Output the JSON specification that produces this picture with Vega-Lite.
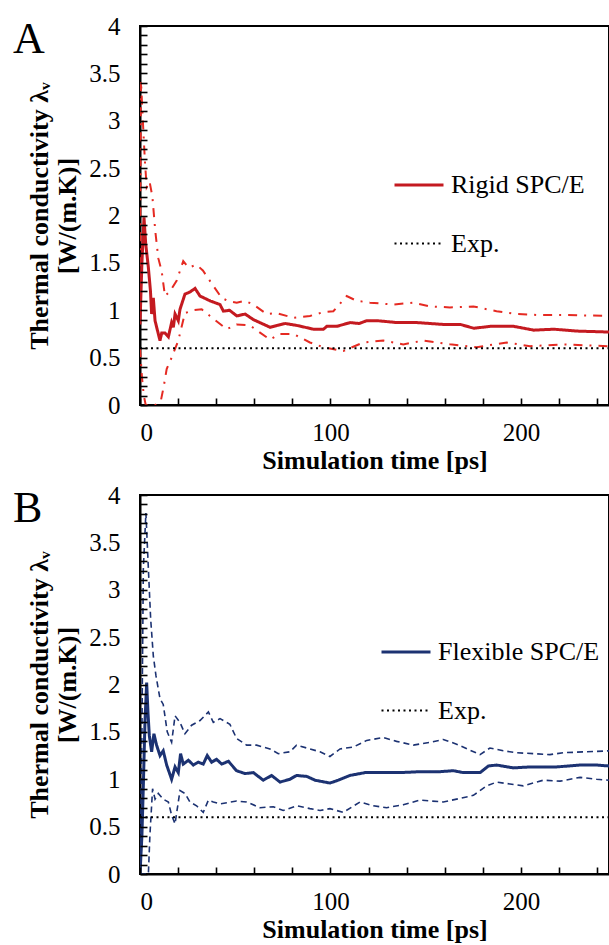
{
  "$schema": "https://vega.github.io/schema/vega-lite/v6.json",
  "padding": {"left": 12, "top": 13, "right": 0, "bottom": 0},
  "background": "white",
  "spacing": 8,
  "resolve": {"scale": {"color": "independent", "strokeDash": "independent", "strokeWidth": "independent"}},
  "config": {
    "view": {"stroke": "black", "strokeWidth": 2},
    "axis": {"domainColor": "black", "domainWidth": 2, "tickColor": "black", "tickWidth": 1.8, "grid": false, "zindex": 1,
      "labelFont": "Liberation Serif", "labelFontSize": 25, "labelColor": "black",
      "titleFont": "Liberation Serif", "titleFontSize": 26, "titleFontWeight": "bold", "titleColor": "black"},
    "axisX": {"titlePadding": 2},
    "legend": {"labelFont": "Liberation Serif", "labelFontSize": 26, "labelColor": "black", "labelLimit": 400, "symbolType": "stroke", "symbolSize": 2401, "labelOffset": 6, "rowPadding": 20, "padding": 0},
    "title": {"font": "Liberation Serif", "fontSize": 44, "fontWeight": "normal", "color": "black", "anchor": "start", "frame": "group", "baseline": "alphabetic"}
  },
  "datasets": {
    "rigid": [
      {"t":0,"v":0.85,"s":"Rigid SPC/E"},{"t":1,"v":1.5,"s":"Rigid SPC/E"},{"t":2.1,"v":1.98,"s":"Rigid SPC/E"},{"t":3,"v":1.7,"s":"Rigid SPC/E"},{"t":4.4,"v":1.45,"s":"Rigid SPC/E"},{"t":5.5,"v":1.2,"s":"Rigid SPC/E"},{"t":6.1,"v":0.96,"s":"Rigid SPC/E"},{"t":7,"v":1.13,"s":"Rigid SPC/E"},{"t":7.9,"v":0.89,"s":"Rigid SPC/E"},{"t":9,"v":0.8,"s":"Rigid SPC/E"},{"t":10.5,"v":0.68,"s":"Rigid SPC/E"},{"t":11.4,"v":0.76,"s":"Rigid SPC/E"},{"t":13.1,"v":0.76,"s":"Rigid SPC/E"},{"t":14.9,"v":0.72,"s":"Rigid SPC/E"},{"t":16.6,"v":0.87,"s":"Rigid SPC/E"},{"t":17.5,"v":0.82,"s":"Rigid SPC/E"},{"t":18.4,"v":0.96,"s":"Rigid SPC/E"},{"t":20.1,"v":0.89,"s":"Rigid SPC/E"},{"t":21,"v":1.01,"s":"Rigid SPC/E"},{"t":23.6,"v":1.17,"s":"Rigid SPC/E"},{"t":26,"v":1.19,"s":"Rigid SPC/E"},{"t":28.9,"v":1.23,"s":"Rigid SPC/E"},{"t":31.5,"v":1.15,"s":"Rigid SPC/E"},{"t":36.7,"v":1.1,"s":"Rigid SPC/E"},{"t":42,"v":1.06,"s":"Rigid SPC/E"},{"t":43.8,"v":0.99,"s":"Rigid SPC/E"},{"t":47,"v":1.0,"s":"Rigid SPC/E"},{"t":50.8,"v":0.94,"s":"Rigid SPC/E"},{"t":55.2,"v":0.96,"s":"Rigid SPC/E"},{"t":59.6,"v":0.9,"s":"Rigid SPC/E"},{"t":64,"v":0.86,"s":"Rigid SPC/E"},{"t":68.3,"v":0.82,"s":"Rigid SPC/E"},{"t":72,"v":0.84,"s":"Rigid SPC/E"},{"t":76.2,"v":0.86,"s":"Rigid SPC/E"},{"t":82.3,"v":0.84,"s":"Rigid SPC/E"},{"t":91.1,"v":0.8,"s":"Rigid SPC/E"},{"t":96.3,"v":0.8,"s":"Rigid SPC/E"},{"t":98.1,"v":0.83,"s":"Rigid SPC/E"},{"t":103.3,"v":0.83,"s":"Rigid SPC/E"},{"t":110.3,"v":0.87,"s":"Rigid SPC/E"},{"t":115,"v":0.86,"s":"Rigid SPC/E"},{"t":119.1,"v":0.89,"s":"Rigid SPC/E"},{"t":124.4,"v":0.89,"s":"Rigid SPC/E"},{"t":134.9,"v":0.87,"s":"Rigid SPC/E"},{"t":145.4,"v":0.87,"s":"Rigid SPC/E"},{"t":159.4,"v":0.85,"s":"Rigid SPC/E"},{"t":168.2,"v":0.85,"s":"Rigid SPC/E"},{"t":175.2,"v":0.81,"s":"Rigid SPC/E"},{"t":183.9,"v":0.83,"s":"Rigid SPC/E"},{"t":196.2,"v":0.83,"s":"Rigid SPC/E"},{"t":206.7,"v":0.79,"s":"Rigid SPC/E"},{"t":217.2,"v":0.8,"s":"Rigid SPC/E"},{"t":229.5,"v":0.78,"s":"Rigid SPC/E"},{"t":246.2,"v":0.77,"s":"Rigid SPC/E"},
      {"t":0,"v":1.2,"s":"upper"},{"t":0.5,"v":3.42,"s":"upper"},{"t":1.5,"v":3.0,"s":"upper"},{"t":2.5,"v":2.6,"s":"upper"},{"t":3.5,"v":2.3,"s":"upper"},{"t":5,"v":2.36,"s":"upper"},{"t":6.5,"v":2.2,"s":"upper"},{"t":8,"v":1.84,"s":"upper"},{"t":9.6,"v":1.55,"s":"upper"},{"t":11.4,"v":1.41,"s":"upper"},{"t":13.1,"v":1.15,"s":"upper"},{"t":15.7,"v":1.2,"s":"upper"},{"t":19.2,"v":1.31,"s":"upper"},{"t":22.7,"v":1.52,"s":"upper"},{"t":25.4,"v":1.45,"s":"upper"},{"t":29.7,"v":1.48,"s":"upper"},{"t":33,"v":1.42,"s":"upper"},{"t":36.7,"v":1.31,"s":"upper"},{"t":42.9,"v":1.13,"s":"upper"},{"t":46,"v":1.1,"s":"upper"},{"t":50.8,"v":1.08,"s":"upper"},{"t":55,"v":1.1,"s":"upper"},{"t":59.5,"v":1.06,"s":"upper"},{"t":66.5,"v":0.96,"s":"upper"},{"t":71.7,"v":0.97,"s":"upper"},{"t":80.5,"v":0.92,"s":"upper"},{"t":89.2,"v":0.94,"s":"upper"},{"t":96.2,"v":0.98,"s":"upper"},{"t":101.5,"v":0.99,"s":"upper"},{"t":108.5,"v":1.15,"s":"upper"},{"t":113.7,"v":1.1,"s":"upper"},{"t":120.7,"v":1.08,"s":"upper"},{"t":133,"v":1.06,"s":"upper"},{"t":143.5,"v":1.08,"s":"upper"},{"t":152.2,"v":1.04,"s":"upper"},{"t":162.7,"v":1.03,"s":"upper"},{"t":175,"v":1.04,"s":"upper"},{"t":187.2,"v":0.99,"s":"upper"},{"t":197.7,"v":0.96,"s":"upper"},{"t":208.2,"v":0.95,"s":"upper"},{"t":222.2,"v":0.95,"s":"upper"},{"t":246.2,"v":0.94,"s":"upper"},
      {"t":0,"v":0.6,"s":"lower"},{"t":1,"v":0.3,"s":"lower"},{"t":2,"v":0.1,"s":"lower"},{"t":3,"v":0.0,"s":"lower"},{"t":5,"v":0.0,"s":"lower"},{"t":8,"v":0.0,"s":"lower"},{"t":11,"v":0.05,"s":"lower"},{"t":12.5,"v":0.2,"s":"lower"},{"t":14,"v":0.38,"s":"lower"},{"t":16.6,"v":0.5,"s":"lower"},{"t":20.1,"v":0.68,"s":"lower"},{"t":23.6,"v":0.97,"s":"lower"},{"t":28,"v":1.0,"s":"lower"},{"t":32.4,"v":1.01,"s":"lower"},{"t":36.7,"v":0.94,"s":"lower"},{"t":45.5,"v":0.8,"s":"lower"},{"t":50.7,"v":0.85,"s":"lower"},{"t":57.7,"v":0.84,"s":"lower"},{"t":68.2,"v":0.69,"s":"lower"},{"t":73.5,"v":0.75,"s":"lower"},{"t":80.5,"v":0.75,"s":"lower"},{"t":89.2,"v":0.66,"s":"lower"},{"t":96.2,"v":0.61,"s":"lower"},{"t":106.7,"v":0.57,"s":"lower"},{"t":117.2,"v":0.66,"s":"lower"},{"t":127.7,"v":0.68,"s":"lower"},{"t":138.2,"v":0.64,"s":"lower"},{"t":148.7,"v":0.68,"s":"lower"},{"t":162.7,"v":0.64,"s":"lower"},{"t":176.7,"v":0.61,"s":"lower"},{"t":192.5,"v":0.66,"s":"lower"},{"t":204.7,"v":0.62,"s":"lower"},{"t":222.2,"v":0.64,"s":"lower"},{"t":246.2,"v":0.62,"s":"lower"},
      {"t":0,"v":0.6,"s":"Exp."},{"t":246.2,"v":0.6,"s":"Exp."}
    ],
    "flex": [
      {"t":0,"v":0,"s":"Flexible SPC/E"},{"t":1,"v":0.4,"s":"Flexible SPC/E"},{"t":1.75,"v":0.93,"s":"Flexible SPC/E"},{"t":2.6,"v":1.6,"s":"Flexible SPC/E"},{"t":3.5,"v":2.02,"s":"Flexible SPC/E"},{"t":4.2,"v":1.7,"s":"Flexible SPC/E"},{"t":4.9,"v":1.46,"s":"Flexible SPC/E"},{"t":6.1,"v":1.29,"s":"Flexible SPC/E"},{"t":7.3,"v":1.48,"s":"Flexible SPC/E"},{"t":8.7,"v":1.36,"s":"Flexible SPC/E"},{"t":10.5,"v":1.25,"s":"Flexible SPC/E"},{"t":12.2,"v":1.3,"s":"Flexible SPC/E"},{"t":14,"v":1.15,"s":"Flexible SPC/E"},{"t":16.6,"v":1.0,"s":"Flexible SPC/E"},{"t":18.4,"v":1.13,"s":"Flexible SPC/E"},{"t":20.1,"v":1.07,"s":"Flexible SPC/E"},{"t":21.3,"v":1.27,"s":"Flexible SPC/E"},{"t":22.7,"v":1.16,"s":"Flexible SPC/E"},{"t":25.4,"v":1.2,"s":"Flexible SPC/E"},{"t":28,"v":1.15,"s":"Flexible SPC/E"},{"t":30.6,"v":1.18,"s":"Flexible SPC/E"},{"t":33.2,"v":1.16,"s":"Flexible SPC/E"},{"t":35.3,"v":1.25,"s":"Flexible SPC/E"},{"t":37.6,"v":1.18,"s":"Flexible SPC/E"},{"t":40.2,"v":1.21,"s":"Flexible SPC/E"},{"t":42.9,"v":1.16,"s":"Flexible SPC/E"},{"t":46.4,"v":1.19,"s":"Flexible SPC/E"},{"t":50.7,"v":1.09,"s":"Flexible SPC/E"},{"t":55.1,"v":1.06,"s":"Flexible SPC/E"},{"t":59.5,"v":1.07,"s":"Flexible SPC/E"},{"t":64.7,"v":0.99,"s":"Flexible SPC/E"},{"t":69.1,"v":1.04,"s":"Flexible SPC/E"},{"t":73.5,"v":0.97,"s":"Flexible SPC/E"},{"t":78.7,"v":1.0,"s":"Flexible SPC/E"},{"t":82.2,"v":1.04,"s":"Flexible SPC/E"},{"t":87.5,"v":1.03,"s":"Flexible SPC/E"},{"t":91.9,"v":0.99,"s":"Flexible SPC/E"},{"t":99.7,"v":0.96,"s":"Flexible SPC/E"},{"t":104.1,"v":0.99,"s":"Flexible SPC/E"},{"t":110.2,"v":1.04,"s":"Flexible SPC/E"},{"t":118.1,"v":1.07,"s":"Flexible SPC/E"},{"t":126,"v":1.07,"s":"Flexible SPC/E"},{"t":136.5,"v":1.07,"s":"Flexible SPC/E"},{"t":147,"v":1.08,"s":"Flexible SPC/E"},{"t":157.5,"v":1.08,"s":"Flexible SPC/E"},{"t":164.5,"v":1.09,"s":"Flexible SPC/E"},{"t":169.7,"v":1.07,"s":"Flexible SPC/E"},{"t":178.5,"v":1.07,"s":"Flexible SPC/E"},{"t":182.9,"v":1.14,"s":"Flexible SPC/E"},{"t":187.2,"v":1.15,"s":"Flexible SPC/E"},{"t":196,"v":1.12,"s":"Flexible SPC/E"},{"t":204.7,"v":1.13,"s":"Flexible SPC/E"},{"t":218.7,"v":1.13,"s":"Flexible SPC/E"},{"t":231,"v":1.15,"s":"Flexible SPC/E"},{"t":239.7,"v":1.15,"s":"Flexible SPC/E"},{"t":246.2,"v":1.14,"s":"Flexible SPC/E"},
      {"t":0,"v":0,"s":"upper"},{"t":1,"v":1.5,"s":"upper"},{"t":1.75,"v":3.22,"s":"upper"},{"t":3.1,"v":3.81,"s":"upper"},{"t":4.4,"v":3.22,"s":"upper"},{"t":5.6,"v":2.69,"s":"upper"},{"t":7,"v":2.3,"s":"upper"},{"t":8.4,"v":2.09,"s":"upper"},{"t":10.5,"v":1.85,"s":"upper"},{"t":12.2,"v":1.79,"s":"upper"},{"t":14.3,"v":1.5,"s":"upper"},{"t":16.6,"v":1.39,"s":"upper"},{"t":18.4,"v":1.67,"s":"upper"},{"t":21,"v":1.6,"s":"upper"},{"t":23.6,"v":1.48,"s":"upper"},{"t":27.1,"v":1.57,"s":"upper"},{"t":31.5,"v":1.62,"s":"upper"},{"t":35.9,"v":1.71,"s":"upper"},{"t":38.5,"v":1.6,"s":"upper"},{"t":42,"v":1.64,"s":"upper"},{"t":47.2,"v":1.58,"s":"upper"},{"t":50.7,"v":1.43,"s":"upper"},{"t":56,"v":1.36,"s":"upper"},{"t":61.2,"v":1.36,"s":"upper"},{"t":68.2,"v":1.32,"s":"upper"},{"t":72.6,"v":1.27,"s":"upper"},{"t":78.7,"v":1.29,"s":"upper"},{"t":82.2,"v":1.36,"s":"upper"},{"t":89.2,"v":1.32,"s":"upper"},{"t":94.5,"v":1.29,"s":"upper"},{"t":99.7,"v":1.24,"s":"upper"},{"t":105,"v":1.32,"s":"upper"},{"t":112,"v":1.34,"s":"upper"},{"t":119,"v":1.41,"s":"upper"},{"t":127.7,"v":1.44,"s":"upper"},{"t":134.7,"v":1.4,"s":"upper"},{"t":143.5,"v":1.36,"s":"upper"},{"t":152.2,"v":1.39,"s":"upper"},{"t":159.2,"v":1.42,"s":"upper"},{"t":166.2,"v":1.37,"s":"upper"},{"t":178.5,"v":1.26,"s":"upper"},{"t":183.7,"v":1.33,"s":"upper"},{"t":190.7,"v":1.3,"s":"upper"},{"t":197.7,"v":1.28,"s":"upper"},{"t":206.5,"v":1.27,"s":"upper"},{"t":215.2,"v":1.26,"s":"upper"},{"t":222.2,"v":1.28,"s":"upper"},{"t":234.5,"v":1.29,"s":"upper"},{"t":246.2,"v":1.3,"s":"upper"},
      {"t":0,"v":0,"s":"lower"},{"t":2,"v":0,"s":"lower"},{"t":4.4,"v":0,"s":"lower"},{"t":5.2,"v":0.41,"s":"lower"},{"t":6.6,"v":0.9,"s":"lower"},{"t":7.9,"v":0.79,"s":"lower"},{"t":9.6,"v":0.85,"s":"lower"},{"t":12.2,"v":0.79,"s":"lower"},{"t":14.9,"v":0.76,"s":"lower"},{"t":16.6,"v":0.62,"s":"lower"},{"t":18.4,"v":0.53,"s":"lower"},{"t":20.1,"v":0.76,"s":"lower"},{"t":21,"v":0.88,"s":"lower"},{"t":23.6,"v":0.85,"s":"lower"},{"t":26.2,"v":0.76,"s":"lower"},{"t":29.7,"v":0.72,"s":"lower"},{"t":33.2,"v":0.65,"s":"lower"},{"t":35.9,"v":0.78,"s":"lower"},{"t":38.5,"v":0.76,"s":"lower"},{"t":42,"v":0.74,"s":"lower"},{"t":50.7,"v":0.77,"s":"lower"},{"t":56,"v":0.76,"s":"lower"},{"t":63,"v":0.7,"s":"lower"},{"t":70,"v":0.71,"s":"lower"},{"t":75.2,"v":0.67,"s":"lower"},{"t":82.2,"v":0.72,"s":"lower"},{"t":89.2,"v":0.69,"s":"lower"},{"t":94.5,"v":0.67,"s":"lower"},{"t":99.7,"v":0.69,"s":"lower"},{"t":106.7,"v":0.65,"s":"lower"},{"t":115.5,"v":0.76,"s":"lower"},{"t":122.5,"v":0.72,"s":"lower"},{"t":129.5,"v":0.7,"s":"lower"},{"t":138.2,"v":0.73,"s":"lower"},{"t":147,"v":0.78,"s":"lower"},{"t":159.2,"v":0.76,"s":"lower"},{"t":166.2,"v":0.79,"s":"lower"},{"t":175,"v":0.83,"s":"lower"},{"t":182,"v":0.93,"s":"lower"},{"t":187.2,"v":0.97,"s":"lower"},{"t":194.2,"v":0.95,"s":"lower"},{"t":201.2,"v":0.93,"s":"lower"},{"t":211.7,"v":0.99,"s":"lower"},{"t":220.5,"v":0.98,"s":"lower"},{"t":231,"v":1.02,"s":"lower"},{"t":239.7,"v":1.0,"s":"lower"},{"t":246.2,"v":0.99,"s":"lower"},
      {"t":0,"v":0.6,"s":"Exp."},{"t":246.2,"v":0.6,"s":"Exp."}
    ]
  },
  "vconcat": [
    {
      "width": 469, "height": 379,
      "title": {"text": "A", "dx": -127, "offset": -48, "dy": 0},
      "data": {"name": "rigid"},
      "resolve": {"scale": {"x": "independent", "y": "independent"}},
      "layer": [
        {"transform": [{"filter": "datum.s === 'upper' || datum.s === 'lower'"}],
         "mark": {"type": "line", "color": "#e52a22", "strokeWidth": 2, "strokeDash": [9, 7, 2, 7], "clip": true},
         "encoding": {
           "x": {"field": "t", "type": "quantitative", "scale": {"domain": [0, 246.2], "nice": false, "zero": false},
             "axis": {"orient": "bottom", "title": "Simulation time [ps]", "ticks": false, "tickSize": 0, "labelPadding": 15, "values": [0, 100, 200], "format": "d"}},
           "y": {"field": "v", "type": "quantitative", "scale": {"domain": [0, 4], "nice": false},
             "axis": {"orient": "left", "title": ["Thermal conductivity λᵥ", "[W/(m.K)]"], "titleAngle": 270, "titleX": -114, "titleY": 189.5, "titleAlign": "center", "titleBaseline": "top", "titleLineHeight": 28,
               "ticks": false, "tickSize": 0, "labelPadding": 20, "values": [0, 0.5, 1, 1.5, 2, 2.5, 3, 3.5, 4], "format": "~g"}},
           "detail": {"field": "s"}}},
        {"transform": [{"filter": "datum.s === 'Rigid SPC/E' || datum.s === 'Exp.'"}],
         "mark": {"type": "line", "clip": true},
         "encoding": {
           "x": {"field": "t", "type": "quantitative", "scale": {"domain": [0, 246.2], "nice": false, "zero": false},
             "axis": {"orient": "bottom", "offset": -7, "ticks": true, "tickSize": 7, "tickColor": "black", "tickOpacity": 1, "tickWidth": 1.6, "zindex": 2, "domain": false, "labels": false, "title": null, "values": [0,20,40,60,80,100,120,140,160,180,200,220,240]}},
           "y": {"field": "v", "type": "quantitative", "scale": {"domain": [0, 4], "nice": false},
             "axis": {"orient": "left", "offset": -7, "ticks": true, "tickSize": 7, "tickColor": "black", "tickOpacity": 1, "tickWidth": 1.6, "zindex": 2, "domain": false, "labels": false, "title": null,
               "values": [0,0.1,0.2,0.3,0.4,0.5,0.6,0.7,0.8,0.9,1,1.1,1.2,1.3,1.4,1.5,1.6,1.7,1.8,1.9,2,2.1,2.2,2.3,2.4,2.5,2.6,2.7,2.8,2.9,3,3.1,3.2,3.3,3.4,3.5,3.6,3.7,3.8,3.9,4]}},
           "color": {"field": "s", "type": "nominal", "scale": {"domain": ["Rigid SPC/E", "Exp."], "range": ["#c41a20", "black"]}, "legend": {"title": null, "orient": "none", "legendX": 253, "legendY": 133}},
           "strokeDash": {"field": "s", "type": "nominal", "scale": {"domain": ["Rigid SPC/E", "Exp."], "range": [[1, 0], [2, 3.5]]}, "legend": {"title": null, "orient": "none", "legendX": 253, "legendY": 133}},
           "strokeWidth": {"field": "s", "type": "nominal", "scale": {"domain": ["Rigid SPC/E", "Exp."], "range": [3, 2]}, "legend": {"title": null, "orient": "none", "legendX": 253, "legendY": 133}}
         }}
      ]
    },
    {
      "width": 469, "height": 379,
      "title": {"text": "B", "dx": -127, "offset": -48, "dy": 0},
      "data": {"name": "flex"},
      "resolve": {"scale": {"x": "independent", "y": "independent"}},
      "layer": [
        {"transform": [{"filter": "datum.s === 'upper' || datum.s === 'lower'"}],
         "mark": {"type": "line", "color": "#1c3272", "strokeWidth": 1.6, "strokeDash": [6, 4], "clip": true},
         "encoding": {
           "x": {"field": "t", "type": "quantitative", "scale": {"domain": [0, 246.2], "nice": false, "zero": false},
             "axis": {"orient": "bottom", "title": "Simulation time [ps]", "ticks": false, "tickSize": 0, "labelPadding": 15, "values": [0, 100, 200], "format": "d"}},
           "y": {"field": "v", "type": "quantitative", "scale": {"domain": [0, 4], "nice": false},
             "axis": {"orient": "left", "title": ["Thermal conductivity λᵥ", "[W/(m.K)]"], "titleAngle": 270, "titleX": -114, "titleY": 189.5, "titleAlign": "center", "titleBaseline": "top", "titleLineHeight": 28,
               "ticks": false, "tickSize": 0, "labelPadding": 20, "values": [0, 0.5, 1, 1.5, 2, 2.5, 3, 3.5, 4], "format": "~g"}},
           "detail": {"field": "s"}}},
        {"transform": [{"filter": "datum.s === 'Flexible SPC/E' || datum.s === 'Exp.'"}],
         "mark": {"type": "line", "clip": true},
         "encoding": {
           "x": {"field": "t", "type": "quantitative", "scale": {"domain": [0, 246.2], "nice": false, "zero": false},
             "axis": {"orient": "bottom", "offset": -7, "ticks": true, "tickSize": 7, "tickColor": "black", "tickOpacity": 1, "tickWidth": 1.6, "zindex": 2, "domain": false, "labels": false, "title": null, "values": [0,20,40,60,80,100,120,140,160,180,200,220,240]}},
           "y": {"field": "v", "type": "quantitative", "scale": {"domain": [0, 4], "nice": false},
             "axis": {"orient": "left", "offset": -7, "ticks": true, "tickSize": 7, "tickColor": "black", "tickOpacity": 1, "tickWidth": 1.6, "zindex": 2, "domain": false, "labels": false, "title": null,
               "values": [0,0.1,0.2,0.3,0.4,0.5,0.6,0.7,0.8,0.9,1,1.1,1.2,1.3,1.4,1.5,1.6,1.7,1.8,1.9,2,2.1,2.2,2.3,2.4,2.5,2.6,2.7,2.8,2.9,3,3.1,3.2,3.3,3.4,3.5,3.6,3.7,3.8,3.9,4]}},
           "color": {"field": "s", "type": "nominal", "scale": {"domain": ["Flexible SPC/E", "Exp."], "range": ["#1c3272", "black"]}, "legend": {"title": null, "orient": "none", "legendX": 240, "legendY": 131}},
           "strokeDash": {"field": "s", "type": "nominal", "scale": {"domain": ["Flexible SPC/E", "Exp."], "range": [[1, 0], [2, 3.5]]}, "legend": {"title": null, "orient": "none", "legendX": 240, "legendY": 131}},
           "strokeWidth": {"field": "s", "type": "nominal", "scale": {"domain": ["Flexible SPC/E", "Exp."], "range": [3, 2]}, "legend": {"title": null, "orient": "none", "legendX": 240, "legendY": 131}}
         }}
      ]
    }
  ]
}
